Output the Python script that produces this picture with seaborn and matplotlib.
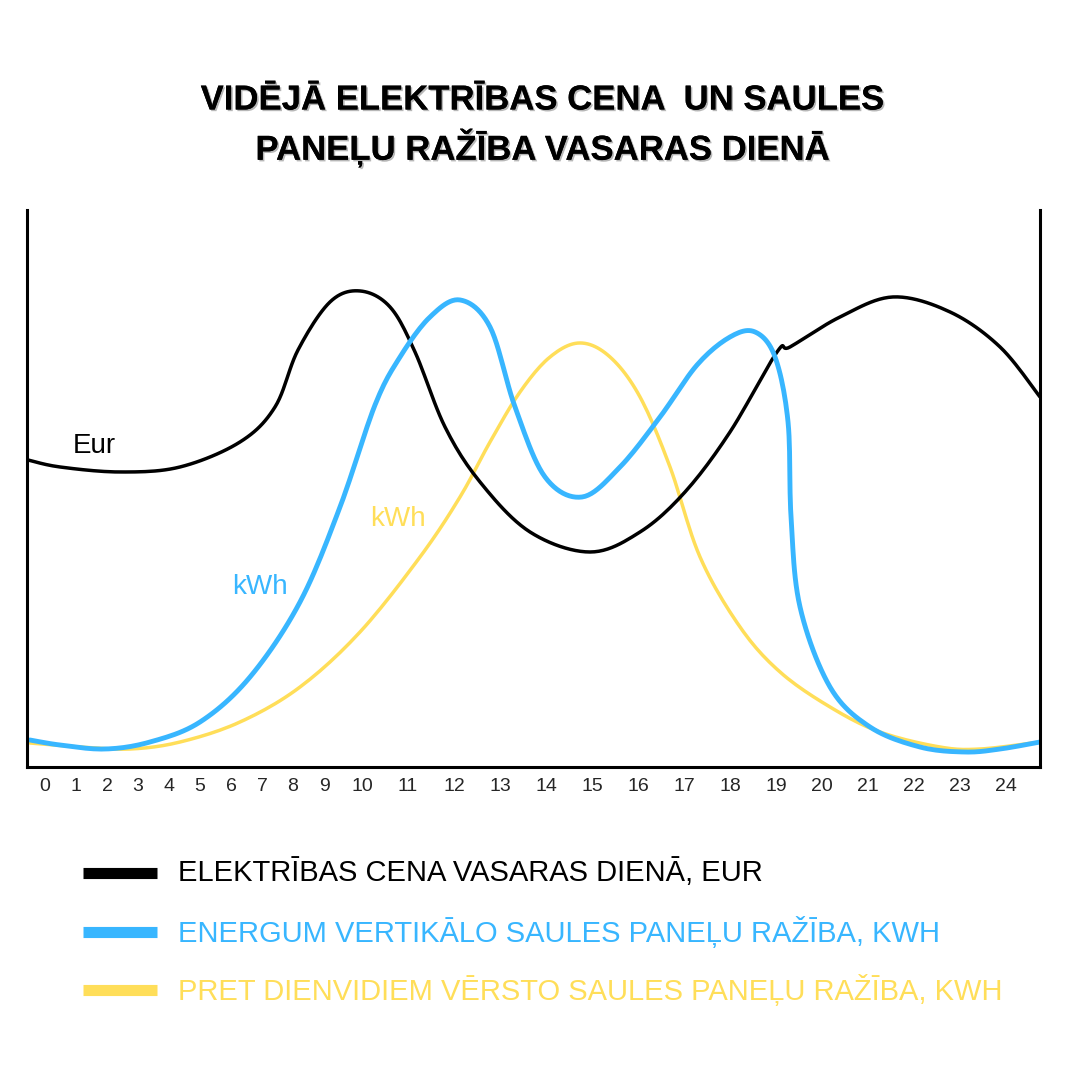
import numpy as np
import seaborn as sns
import matplotlib
matplotlib.use("Agg")
import matplotlib.pyplot as plt
import matplotlib.patheffects as pe

sns.set_style("white")
plt.rcParams['font.family'] = ['Liberation Sans', 'DejaVu Sans']

# stundas uz x ass (etiketes nav vienmērīgi izkārtotas oriģinālā)
tick_pos = [45, 76, 107, 138, 169, 200, 231, 262, 293, 324, 362, 408, 454, 500,
            546, 592, 638, 684, 730, 776, 822, 868, 914, 960, 1006]
tick_lab = [str(i) for i in range(25)]

# cena, EUR (relatīvas vienības)
eur_x = [28, 60, 120, 180, 240, 275, 298, 330, 360, 390, 415, 445, 480, 530, 590,
         640, 685, 730, 777, 790, 840, 893, 950, 1000, 1040]
eur_y = [307, 300, 295, 300, 325, 360, 417, 465, 476, 460, 415, 340, 285, 235, 215,
         235, 275, 335, 415, 420, 450, 470, 455, 420, 370]

# vertikālie paneļi, kWh
blue_x = [30, 60, 105, 150, 200, 250, 300, 340, 375, 400, 430, 460, 490, 515, 545,
          582, 620, 660, 697, 730, 755, 775, 788, 791, 800, 830, 870, 920, 965, 1000, 1040]
blue_y = [27, 22, 18, 25, 45, 90, 165, 260, 362, 410, 450, 467, 440, 360, 290,
          270, 300, 350, 402, 430, 435, 410, 345, 250, 160, 80, 40, 20, 15, 18, 25]

# uz dienvidiem vērsti paneļi, kWh
yel_x = [30, 80, 130, 180, 240, 300, 360, 420, 460, 490, 520, 550, 580, 610, 640,
         670, 700, 740, 780, 830, 880, 940, 980, 1040]
yel_y = [24, 20, 18, 25, 45, 80, 135, 210, 270, 325, 375, 410, 424, 410, 370,
         300, 210, 140, 95, 60, 35, 20, 18, 25]

BLUE = "#38b6ff"
YEL = "#ffde59"


def smooth(xs, ys, n=12):
    # Catmull-Rom tikai zīmēšanai, lai līnija būtu gluda
    p = np.column_stack([xs, ys]).astype(float)
    p = np.vstack([p[0], p, p[-1]])
    out = []
    t = np.linspace(0, 1, n, endpoint=False)[:, None]
    for i in range(1, len(p) - 2):
        p0, p1, p2, p3 = p[i - 1], p[i], p[i + 1], p[i + 2]
        out.append(0.5 * (2 * p1 + (-p0 + p2) * t + (2 * p0 - 5 * p1 + 4 * p2 - p3) * t ** 2
                          + (-p0 + 3 * p1 - 3 * p2 + p3) * t ** 3))
    out.append(p[-2][None, :])
    out = np.vstack(out)
    return out[:, 0], out[:, 1]


fig = plt.figure(figsize=(10.8, 10.8), dpi=100)
ax = fig.add_axes([0.025, 0.2898, 0.938, 0.5158])

for xs, ys, col, lw in [(yel_x, yel_y, YEL, 2.5), (eur_x, eur_y, "black", 2.5),
                        (blue_x, blue_y, BLUE, 3.5)]:
    sx, sy = smooth(xs, ys)
    sns.lineplot(x=sx, y=sy, ax=ax, color=col, lw=lw, sort=False, estimator=None)

ax.set_xlim(27, 1040)
ax.set_ylim(0, 557)
ax.set_yticks([])
ax.set_xticks(tick_pos)
ax.set_xticklabels(tick_lab, fontsize=14)
ax.tick_params(axis='x', length=0, pad=8)
ax.spines['top'].set_visible(False)
for s in ['left', 'right', 'bottom']:
    ax.spines[s].set_color('black')
    ax.spines[s].set_linewidth(2.2)

ax.text(73, 321, "Eur", fontsize=20, color="black", va="center")
ax.text(232, 180, "kWh", fontsize=20, color=BLUE, va="center")
ax.text(370, 248, "kWh", fontsize=20, color=YEL, va="center")

shadow = [pe.withSimplePatchShadow(offset=(1.2, -1.2), shadow_rgbFace='#999999', alpha=0.7), pe.Normal()]
fig.text(0.503, 1 - 100 / 1080, "VIDĒJĀ ELEKTRĪBAS CENA  UN SAULES", ha="center", va="center",
         fontsize=25, fontweight="bold", color="black", path_effects=shadow)
fig.text(0.503, 1 - 148 / 1080, "PANEĻU RAŽĪBA VASARAS DIENĀ", ha="center", va="center",
         fontsize=25, fontweight="bold", color="black", path_effects=shadow)

legend = [("ELEKTRĪBAS CENA VASARAS DIENĀ, EUR", "black", 873),
          ("ENERGUM VERTIKĀLO SAULES PANEĻU RAŽĪBA, KWH", BLUE, 932),
          ("PRET DIENVIDIEM VĒRSTO SAULES PANEĻU RAŽĪBA, KWH", YEL, 990)]
for txt, col, yp in legend:
    yf = 1 - yp / 1080
    fig.add_artist(plt.Line2D([83 / 1080, 157 / 1080], [yf, yf], color=col, lw=8,
                              solid_capstyle='butt'))
    fig.text(178 / 1080, yf, txt, color=col, fontsize=21, va="center")

fig.savefig("out.png", dpi=100, facecolor="white")
